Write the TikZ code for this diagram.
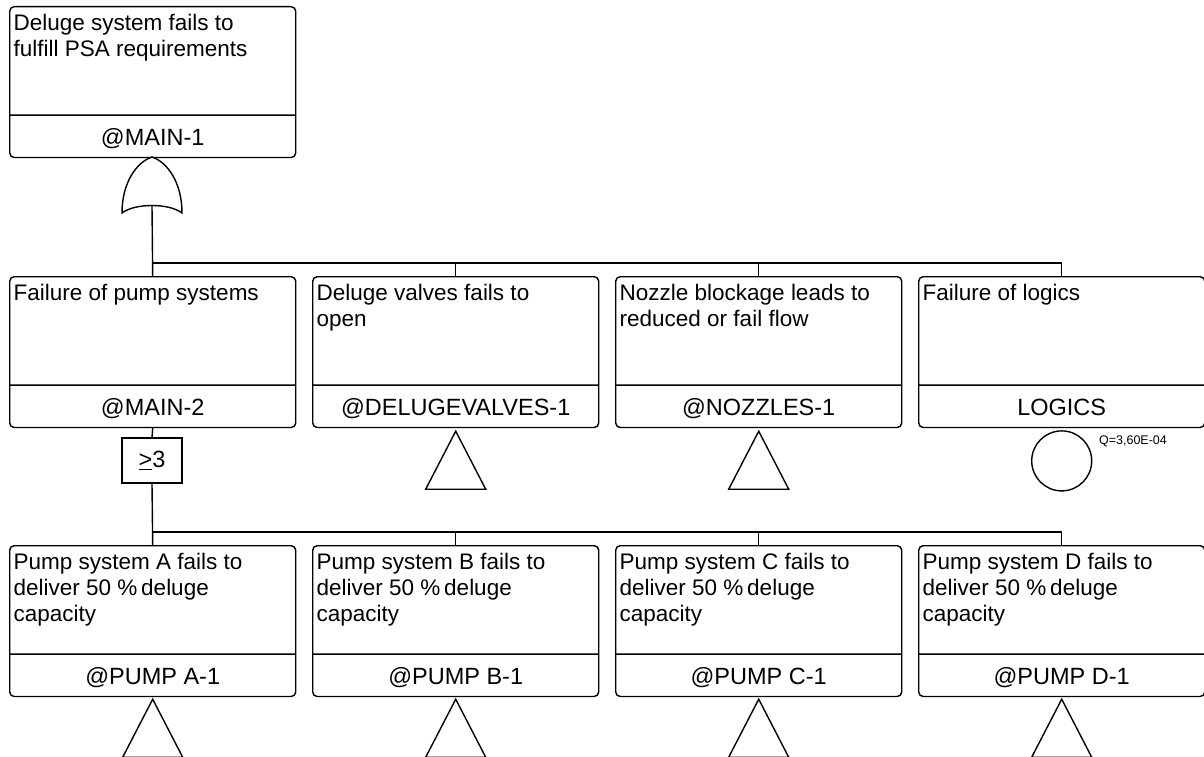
\documentclass[tikz,border=0pt]{standalone}
\usepackage{fontspec}
\setmainfont{Liberation Sans}
\usepackage{tikz}
\usetikzlibrary{shapes.multipart,positioning}

% event box: description part and id part
\newcommand{\evtext}[2]{\parbox[b][107pt][t]{286pt}{\raggedright\leftskip=4pt\rule{0pt}{23pt}#1}%
  \nodepart{two}\parbox[b][41pt][t]{286pt}{\centering\fontsize{23.5}{26}\selectfont\rule{0pt}{30pt}#2}}

\begin{document}
\begin{tikzpicture}[
  x=1pt, y=-1pt,
  font=\fontsize{22.5}{26}\selectfont,
  line width=1.4pt,
  evt/.style={rectangle split, rectangle split parts=2, draw, rounded corners=4.5pt, inner sep=0pt, anchor=north west},
  vote/.style={draw, minimum width=60pt, minimum height=45pt, inner sep=0pt, font=\fontsize{23.5}{26}\selectfont},
  basic/.style={draw, circle, minimum size=60pt, inner sep=0pt},
  qval/.style={font=\fontsize{12.5}{14}\selectfont, inner sep=0pt, anchor=base west},
  wire/.style={draw},
  transfer/.pic={\draw (0,0) -- (-30,58) -- (30,58) -- cycle;},
  orgate/.pic={\draw (0,0) .. controls (15,5) and (30,25) .. (30,56)
     .. controls (17,46) and (-17,46) .. (-30,56)
     .. controls (-30,25) and (-15,5) .. cycle;}
]
\useasboundingbox (0,0) rectangle (1204,757);

% top event
\node[evt] (main1) at (9,6) {\evtext{Deluge system fails to\\fulfill PSA requirements}{@MAIN-1}};
\pic at (152,157) {orgate};
\coordinate (or1) at (152,206);
\coordinate (bus1) at (152,263);

% second level
\node[evt] (main2) at (9,276) {\evtext{Failure of pump systems}{@MAIN-2}};
\node[evt] (valves) at (312,276) {\evtext{Deluge valves fails to\\open}{@DELUGEVALVES-1}};
\node[evt] (nozzles) at (615,276) {\evtext{Nozzle blockage leads to\\reduced or fail flow}{@NOZZLES-1}};
\node[evt] (logics) at (918,276) {\evtext{Failure of logics}{LOGICS}};

\draw[wire] (or1) -- (main2.north);
\foreach \n in {valves,nozzles,logics}
  \draw[wire] (bus1) -| (\n.north);

\path (valves.south) ++(0,3) pic {transfer};
\path (nozzles.south) ++(0,3) pic {transfer};
\node[basic, below=2pt of logics] (logicsev) {};
\node[qval] (logicsq) at ([xshift=15pt,yshift=-5pt]logicsev.north east) {Q=3,60E-04};

% voting gate
\node[vote] (vote1) at (152,460.5) {\underline{>}3};
\coordinate (bus2) at (152,532);

% third level
\node[evt] (pumpA) at (9,545) {\evtext{Pump system A fails to\\deliver 50 \%\,deluge\\capacity}{@PUMP A-1}};
\node[evt] (pumpB) at (312,545) {\evtext{Pump system B fails to\\deliver 50 \%\,deluge\\capacity}{@PUMP B-1}};
\node[evt] (pumpC) at (615,545) {\evtext{Pump system C fails to\\deliver 50 \%\,deluge\\capacity}{@PUMP C-1}};
\node[evt] (pumpD) at (918,545) {\evtext{Pump system D fails to\\deliver 50 \%\,deluge\\capacity}{@PUMP D-1}};

\draw[wire] (main2.south) -- (vote1.north);
\draw[wire] (vote1.south) -- (pumpA.north);
\foreach \n in {pumpB,pumpC,pumpD}
  \draw[wire] (bus2) -| (\n.north);

\foreach \n in {pumpA,pumpB,pumpC,pumpD}
  \path (\n.south) ++(0,2) pic {transfer};

\end{tikzpicture}
\end{document}
